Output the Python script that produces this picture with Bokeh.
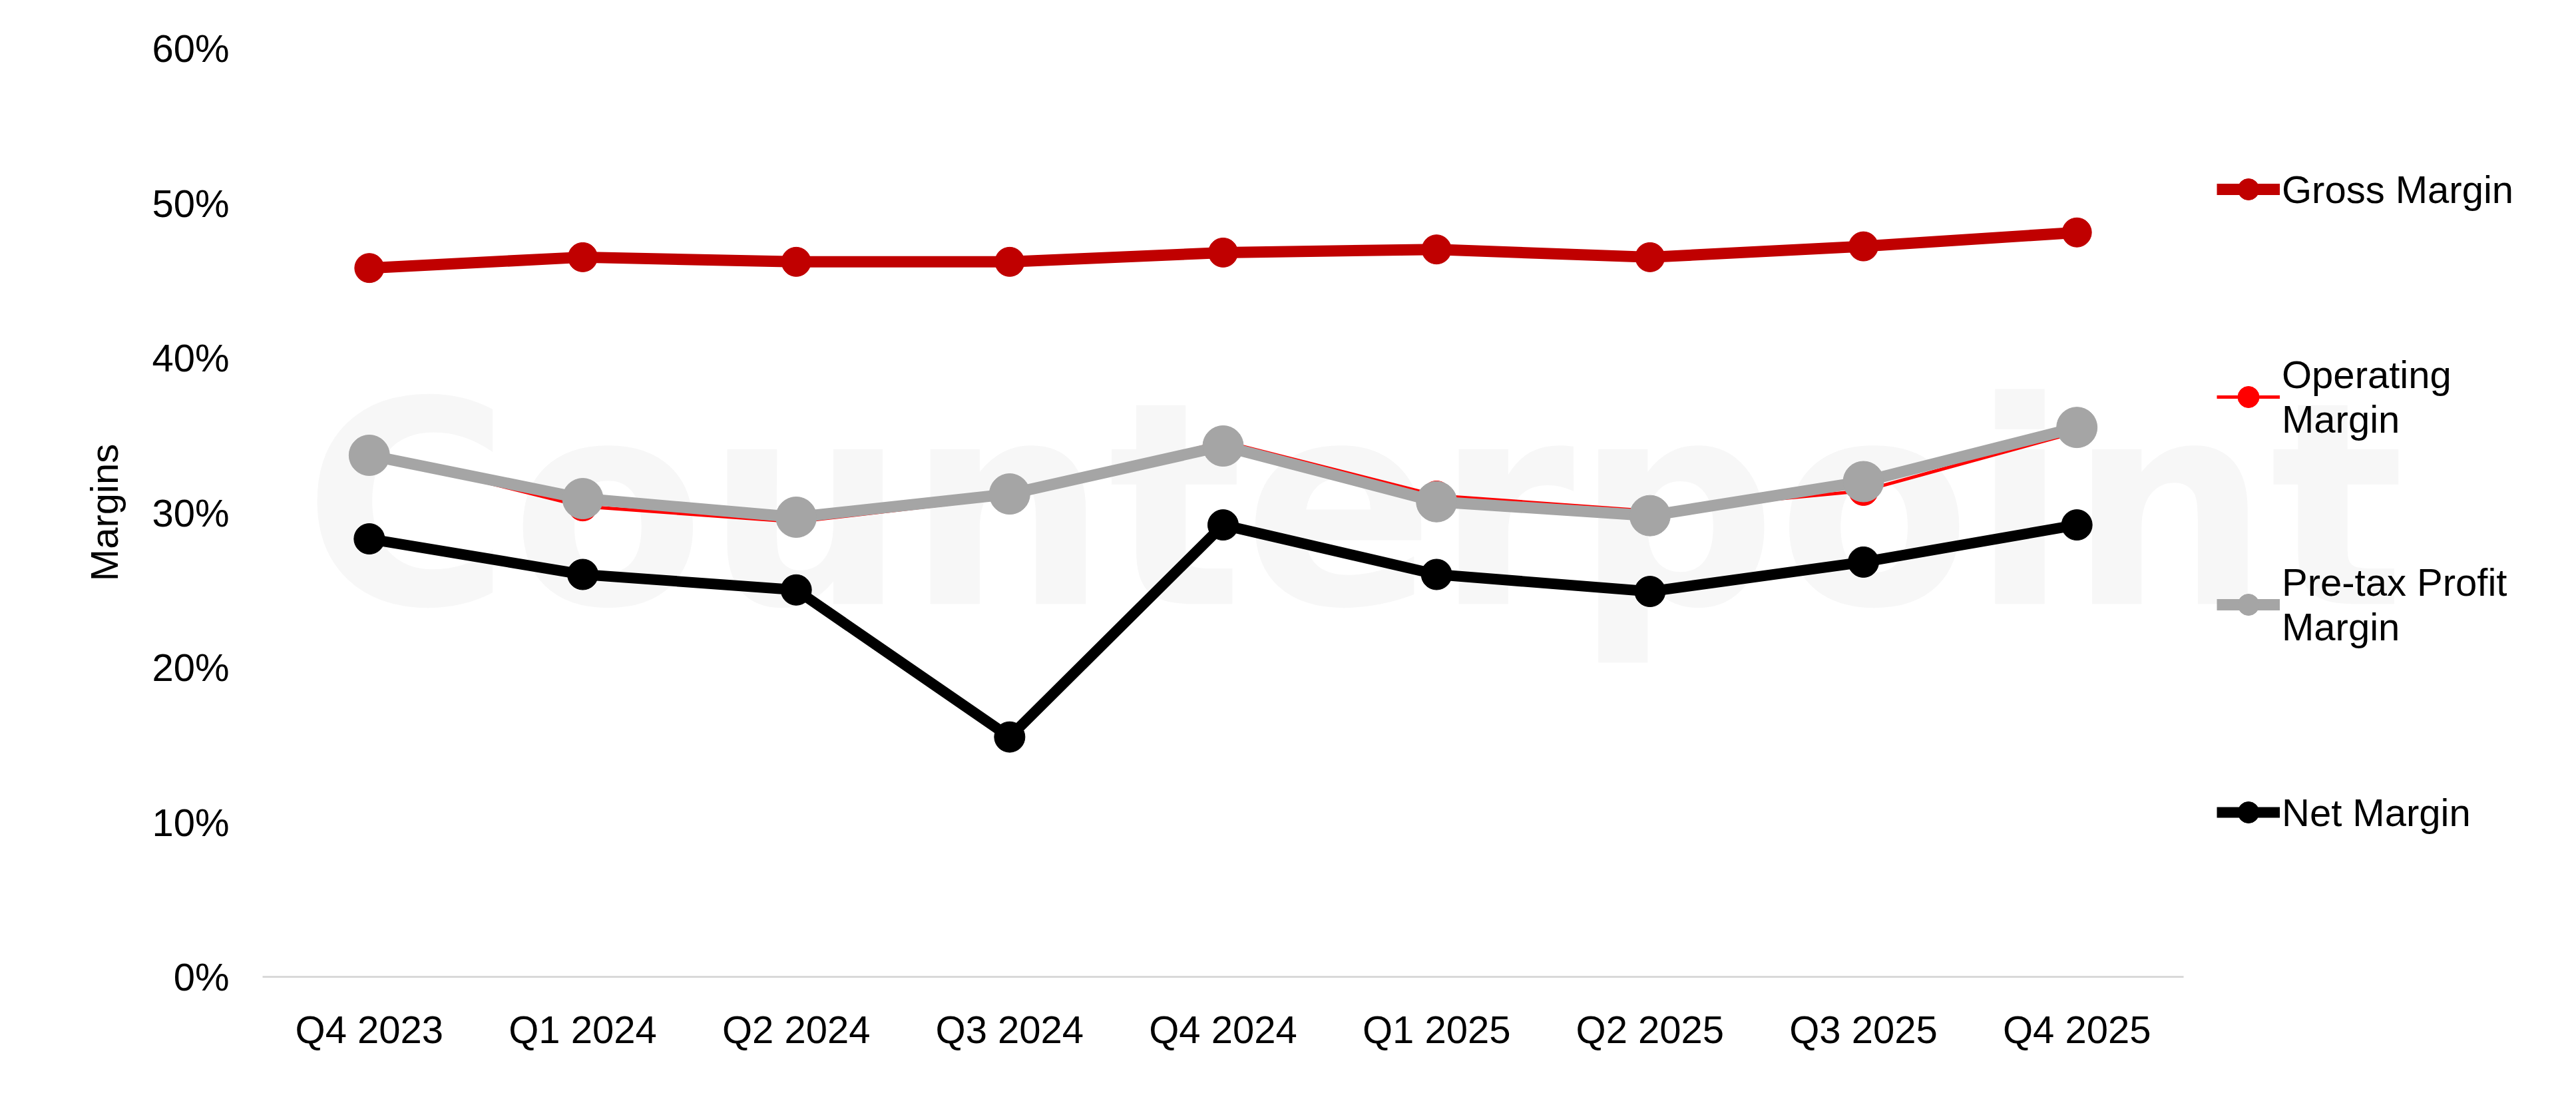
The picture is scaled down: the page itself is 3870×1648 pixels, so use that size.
from bokeh.plotting import figure
from bokeh.embed import file_html
from bokeh.resources import INLINE
from bokeh.models import (FixedTicker, PrintfTickFormatter, Legend, LegendItem,
                          Label, Range1d)

# quarterly margins, in percent
quarters = ["Q4 2023", "Q1 2024", "Q2 2024", "Q3 2024", "Q4 2024",
            "Q1 2025", "Q2 2025", "Q3 2025", "Q4 2025"]
gross_margin = [45.8, 46.5, 46.2, 46.2, 46.8, 47.0, 46.5, 47.2, 48.1]
operating_margin = [33.8, 30.4, 29.4, 31.0, 34.6, 31.1, 30.1, 31.4, 35.2]
pretax_margin = [33.7, 30.9, 29.7, 31.2, 34.3, 30.7, 29.8, 32.0, 35.5]
net_margin = [28.3, 26.0, 25.0, 15.5, 29.2, 26.0, 24.9, 26.8, 29.2]
y_ticks = [0, 10, 20, 30, 40, 50, 60]

FONT = "Liberation Sans"
FS = "58px"

# one slot per quarter, marks in the middle of each slot
x = [i + 0.5 for i in range(len(quarters))]

# x range runs on past the last quarter to leave room for the legend
p = figure(x_range=Range1d(0, 10.79), y_range=(0, 60),
           width=3854, height=1632,
           output_backend="svg", toolbar_location=None,
           min_border_left=394, min_border_right=0,
           min_border_top=72, min_border_bottom=165)

p.outline_line_color = None
p.xgrid.grid_line_color = None
p.ygrid.grid_line_color = None

# faint watermark behind the lines
p.add_layout(Label(x=0.19, y=19.8, text="Counterpoint",
                   text_font="DejaVu Sans", text_font_style="bold",
                   text_font_size="425px", text_color="#f7f7f7",
                   level="underlay"))

g_line = p.line(x, gross_margin, color="#c00000", line_width=17)
g_dot = p.scatter(x, gross_margin, size=44, color="#c00000")

o_line = p.line(x, operating_margin, color="#ff0000", line_width=5)
o_dot = p.scatter(x, operating_margin, size=44, color="#ff0000")

t_line = p.line(x, pretax_margin, color="#a5a5a5", line_width=17)
t_dot = p.scatter(x, pretax_margin, size=61, color="#a5a5a5")

n_line = p.line(x, net_margin, color="black", line_width=16)
n_dot = p.scatter(x, net_margin, size=46, color="black")

# axes
p.yaxis.ticker = FixedTicker(ticks=y_ticks)
p.yaxis.formatter = PrintfTickFormatter(format="%d%%")
p.yaxis.axis_line_color = None
p.yaxis.major_tick_line_color = None
p.yaxis.minor_tick_line_color = None
p.yaxis.major_label_standoff = 44
p.yaxis.axis_label = "Margins"
p.yaxis.axis_label_standoff = 36
p.yaxis.axis_label_text_font_style = "normal"

p.xaxis.ticker = FixedTicker(ticks=x)
p.xaxis.major_label_overrides = dict(zip(x, quarters))
p.xaxis.bounds = (0, len(quarters))
p.xaxis.axis_line_color = "#d9d9d9"
p.xaxis.axis_line_width = 3
p.xaxis.major_tick_line_color = None
p.xaxis.minor_tick_line_color = None
p.xaxis.major_label_standoff = 40

for ax in (p.xaxis, p.yaxis):
    ax.major_label_text_font = FONT
    ax.major_label_text_font_size = FS
    ax.major_label_text_color = "black"
    ax.axis_label_text_font = FONT
    ax.axis_label_text_font_size = FS
    ax.axis_label_text_color = "black"

legend = Legend(items=[
    LegendItem(label="Gross Margin", renderers=[g_line, g_dot]),
    LegendItem(label="Operating\nMargin", renderers=[o_line, o_dot]),
    LegendItem(label="Pre-tax Profit\nMargin", renderers=[t_line, t_dot]),
    LegendItem(label="Net Margin", renderers=[n_line, n_dot]),
], location=(2936, 180))
legend.border_line_color = None
legend.background_fill_alpha = 0
legend.padding = 0
legend.margin = 0
legend.spacing = 178
legend.glyph_width = 95
legend.glyph_height = 80
legend.label_height = 134
legend.label_standoff = 3
legend.label_text_font = FONT
legend.label_text_font_size = FS
legend.label_text_color = "black"
p.add_layout(legend, "center")

open("out.html", "w").write(file_html(p, INLINE))
